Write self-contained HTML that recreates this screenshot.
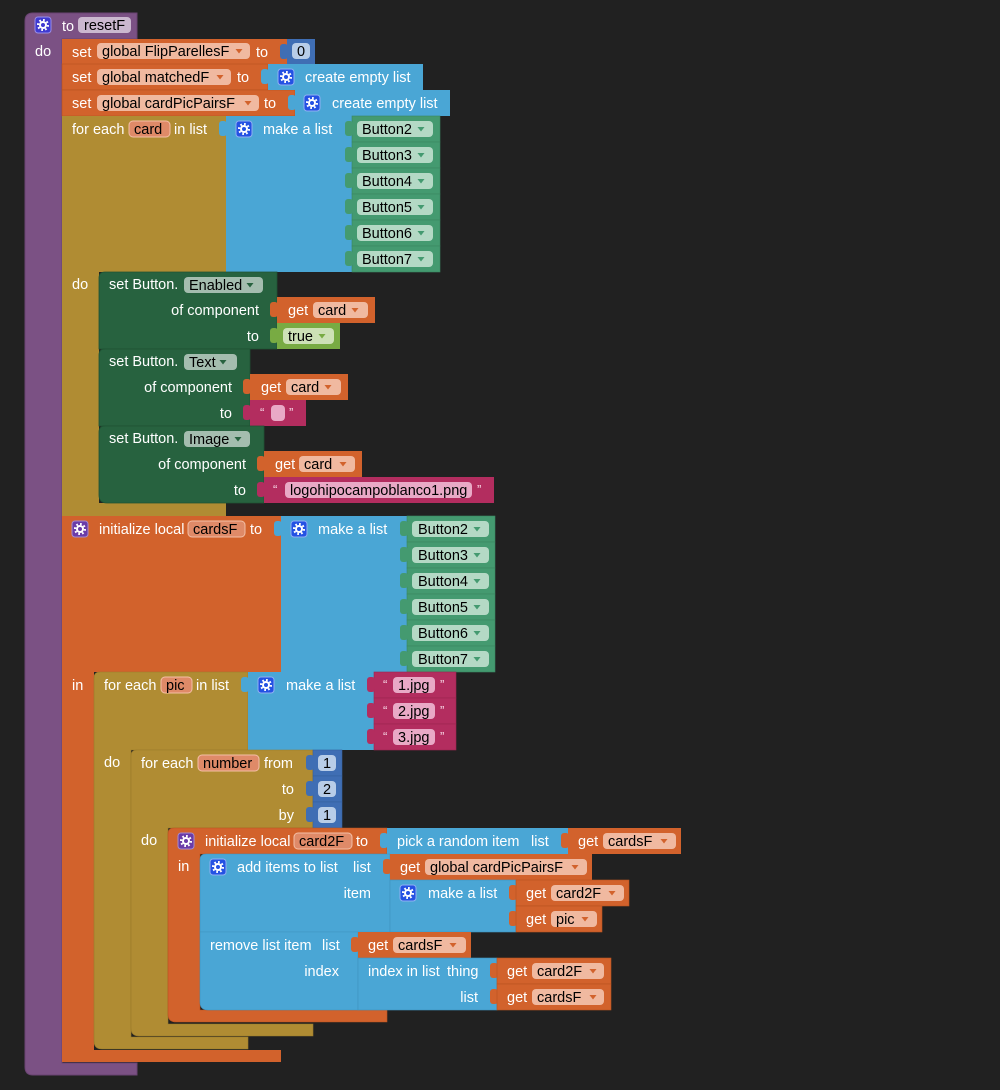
<!DOCTYPE html>
<html><head><meta charset="utf-8"><style>
html,body{margin:0;padding:0;background:#212121;}
svg{display:block}
text{font-family:"Liberation Sans",Arial,sans-serif;font-size:14.5px;}
.w{fill:#fff}
.k{fill:#000}
.q{fill:#f6d6e4;font-size:13px}
</style></head><body>
<svg width="1000" height="1090" viewBox="0 0 1000 1090" xmlns="http://www.w3.org/2000/svg">
<rect width="1000" height="1090" fill="#212121"/>

<!-- Purple procedure -->
<path d="M33,13 H137 V39 H62 V1063 H137 V1075 H33 Q25,1075 25,1067 V21 Q25,13 33,13 Z" fill="#7b5184" stroke="#6a4472" stroke-width="1"/>
<g transform="translate(35,17)"><rect width="16" height="16" rx="3" fill="#3f3ad0" stroke="#9a8ee8"/><circle cx="8" cy="8" r="3" fill="none" stroke="#fff" stroke-width="2"/><circle cx="8" cy="8" r="5" fill="none" stroke="#fff" stroke-width="2" stroke-dasharray="1.8 2.1"/></g>
<text x="62" y="31" class="w">to</text>
<rect x="78" y="17" width="53" height="16" rx="4" fill="#cbb8cf"/>
<text x="84" y="30" class="k">resetF</text>
<text x="35" y="56" class="w">do</text>

<!-- set globals -->
<rect x="62" y="39" width="225" height="25" fill="#d2622c"/>
<rect x="62" y="64" width="206" height="26" fill="#d2622c" stroke="#b8521f" stroke-width="0.6"/>
<rect x="62" y="90" width="233" height="26" fill="#d2622c" stroke="#b8521f" stroke-width="0.6"/>
<text x="72" y="57" class="w">set</text>
<rect x="97" y="43" width="153" height="16" rx="4" fill="#f0b9a0"/>
<text x="102" y="56" class="k">global FlipParellesF</text>
<path d="M235.5,49 h7 l-3.5,4.5 z" fill="#d2622c"/>
<text x="256" y="57" class="w">to</text>
<rect x="280" y="44" width="8" height="15" rx="3" fill="#3f6eb4"/>
<rect x="287" y="39" width="28" height="25" fill="#3f6eb4"/>
<rect x="292" y="43" width="18" height="16" rx="4" fill="#b8cde8"/>
<text x="297" y="56" class="k">0</text>

<text x="72" y="82" class="w">set</text>
<rect x="97" y="69" width="134" height="16" rx="4" fill="#f0b9a0"/>
<text x="102" y="82" class="k">global matchedF</text>
<path d="M216.5,75 h7 l-3.5,4.5 z" fill="#d2622c"/>
<text x="237" y="82" class="w">to</text>
<rect x="261" y="69" width="8" height="15" rx="3" fill="#4aa6d5"/>
<rect x="268" y="64" width="155" height="26" fill="#4aa6d5"/>
<g transform="translate(278,69)"><rect width="16" height="16" rx="3" fill="#2451e3" stroke="#8fb0f2"/><circle cx="8" cy="8" r="3" fill="none" stroke="#fff" stroke-width="2"/><circle cx="8" cy="8" r="5" fill="none" stroke="#fff" stroke-width="2" stroke-dasharray="1.8 2.1"/></g>
<text x="305" y="82" class="w">create empty list</text>

<text x="72" y="108" class="w">set</text>
<rect x="97" y="95" width="162" height="16" rx="4" fill="#f0b9a0"/>
<text x="102" y="108" class="k">global cardPicPairsF</text>
<path d="M244.5,101 h7 l-3.5,4.5 z" fill="#d2622c"/>
<text x="264" y="108" class="w">to</text>
<rect x="288" y="95" width="8" height="15" rx="3" fill="#4aa6d5"/>
<rect x="295" y="90" width="155" height="26" fill="#4aa6d5"/>
<g transform="translate(304,95)"><rect width="16" height="16" rx="3" fill="#2451e3" stroke="#8fb0f2"/><circle cx="8" cy="8" r="3" fill="none" stroke="#fff" stroke-width="2"/><circle cx="8" cy="8" r="5" fill="none" stroke="#fff" stroke-width="2" stroke-dasharray="1.8 2.1"/></g>
<text x="332" y="108" class="w">create empty list</text>

<!-- for each card -->
<path d="M62,116 H226 V272 H99 V503 H226 V516 H62 Z" fill="#b08c33"/>
<text x="72" y="134" class="w">for each</text>
<rect x="129" y="121" width="41" height="16" rx="4" fill="#df8a68" stroke="#f3bfa6"/>
<text x="134" y="134" class="k">card</text>
<text x="174" y="134" class="w">in list</text>
<rect x="219" y="121" width="8" height="15" rx="3" fill="#4aa6d5"/>
<rect x="226" y="116" width="126" height="156" fill="#4aa6d5"/>
<g transform="translate(236,121)"><rect width="16" height="16" rx="3" fill="#2451e3" stroke="#8fb0f2"/><circle cx="8" cy="8" r="3" fill="none" stroke="#fff" stroke-width="2"/><circle cx="8" cy="8" r="5" fill="none" stroke="#fff" stroke-width="2" stroke-dasharray="1.8 2.1"/></g>
<text x="263" y="134" class="w">make a list</text>

<g fill="#449a70" stroke="#3a8660" stroke-width="0.6">
<rect x="352" y="116" width="88" height="26"/><rect x="352" y="142" width="88" height="26"/><rect x="352" y="168" width="88" height="26"/><rect x="352" y="194" width="88" height="26"/><rect x="352" y="220" width="88" height="26"/><rect x="352" y="246" width="88" height="26"/>
</g>
<g fill="#449a70">
<rect x="345" y="121" width="8" height="15" rx="3"/><rect x="345" y="147" width="8" height="15" rx="3"/><rect x="345" y="173" width="8" height="15" rx="3"/><rect x="345" y="199" width="8" height="15" rx="3"/><rect x="345" y="225" width="8" height="15" rx="3"/><rect x="345" y="251" width="8" height="15" rx="3"/>
</g>
<g fill="#b4d9c5">
<rect x="357" y="121" width="76" height="16" rx="4"/><rect x="357" y="147" width="76" height="16" rx="4"/><rect x="357" y="173" width="76" height="16" rx="4"/><rect x="357" y="199" width="76" height="16" rx="4"/><rect x="357" y="225" width="76" height="16" rx="4"/><rect x="357" y="251" width="76" height="16" rx="4"/>
</g>
<text x="362" y="134" class="k">Button2</text>
<text x="362" y="160" class="k">Button3</text>
<text x="362" y="186" class="k">Button4</text>
<text x="362" y="212" class="k">Button5</text>
<text x="362" y="238" class="k">Button6</text>
<text x="362" y="264" class="k">Button7</text>
<g fill="#449a70">
<path d="M417.5,127 h7 l-3.5,4.5 z"/><path d="M417.5,153 h7 l-3.5,4.5 z"/><path d="M417.5,179 h7 l-3.5,4.5 z"/><path d="M417.5,205 h7 l-3.5,4.5 z"/><path d="M417.5,231 h7 l-3.5,4.5 z"/><path d="M417.5,257 h7 l-3.5,4.5 z"/>
</g>

<text x="72" y="289" class="w">do</text>

<!-- set Button.Enabled -->
<path d="M105,272 H277 V349 H99 V278 Q99,272 105,272 Z" fill="#27623f" stroke="#1f5233" stroke-width="0.8"/>
<text x="109" y="289" class="w">set Button.</text>
<rect x="184" y="277" width="79" height="16" rx="4" fill="#a4bdaf"/>
<text x="189" y="290" class="k">Enabled</text>
<path d="M246.5,283 h7 l-3.5,4.5 z" fill="#27623f"/>
<text x="259" y="315" class="w" text-anchor="end">of component</text>
<rect x="270" y="302" width="8" height="15" rx="3" fill="#d2622c"/>
<rect x="277" y="297" width="98" height="26" fill="#d2622c"/>
<text x="288" y="315" class="w">get</text>
<rect x="313" y="302" width="55" height="16" rx="4" fill="#f0b9a0"/>
<text x="318" y="315" class="k">card</text>
<path d="M351.5,308 h7 l-3.5,4.5 z" fill="#d2622c"/>
<text x="259" y="341" class="w" text-anchor="end">to</text>
<rect x="270" y="328" width="8" height="15" rx="3" fill="#78ab43"/>
<rect x="277" y="323" width="63" height="26" fill="#78ab43"/>
<rect x="283" y="328" width="51" height="16" rx="4" fill="#cde1b6"/>
<text x="288" y="341" class="k">true</text>
<path d="M318.5,334 h7 l-3.5,4.5 z" fill="#78ab43"/>

<!-- set Button.Text -->
<path d="M105,349 H250 V426 H99 V355 Q99,349 105,349 Z" fill="#27623f" stroke="#1f5233" stroke-width="0.8"/>
<text x="109" y="366" class="w">set Button.</text>
<rect x="184" y="354" width="53" height="16" rx="4" fill="#a4bdaf"/>
<text x="189" y="367" class="k">Text</text>
<path d="M219.5,360 h7 l-3.5,4.5 z" fill="#27623f"/>
<text x="232" y="392" class="w" text-anchor="end">of component</text>
<rect x="243" y="379" width="8" height="15" rx="3" fill="#d2622c"/>
<rect x="250" y="374" width="98" height="26" fill="#d2622c"/>
<text x="261" y="392" class="w">get</text>
<rect x="286" y="379" width="55" height="16" rx="4" fill="#f0b9a0"/>
<text x="291" y="392" class="k">card</text>
<path d="M324.5,385 h7 l-3.5,4.5 z" fill="#d2622c"/>
<text x="232" y="418" class="w" text-anchor="end">to</text>
<rect x="243" y="405" width="8" height="15" rx="3" fill="#b32d5f"/>
<rect x="250" y="400" width="56" height="26" fill="#b32d5f"/>
<text x="260" y="417" class="q">“</text>
<rect x="271" y="405" width="14" height="16" rx="4" fill="#e9a9c6"/>
<text x="289" y="417" class="q">”</text>

<!-- set Button.Image -->
<path d="M105,426 H264 V503 H107 Q99,503 99,495 V432 Q99,426 105,426 Z" fill="#27623f" stroke="#1f5233" stroke-width="0.8"/>
<text x="109" y="443" class="w">set Button.</text>
<rect x="184" y="431" width="66" height="16" rx="4" fill="#a4bdaf"/>
<text x="189" y="444" class="k">Image</text>
<path d="M234.5,437 h7 l-3.5,4.5 z" fill="#27623f"/>
<text x="246" y="469" class="w" text-anchor="end">of component</text>
<rect x="257" y="456" width="8" height="15" rx="3" fill="#d2622c"/>
<rect x="264" y="451" width="98" height="26" fill="#d2622c"/>
<text x="275" y="469" class="w">get</text>
<rect x="299" y="456" width="56" height="16" rx="4" fill="#f0b9a0"/>
<text x="304" y="469" class="k">card</text>
<path d="M339.5,462 h7 l-3.5,4.5 z" fill="#d2622c"/>
<text x="246" y="495" class="w" text-anchor="end">to</text>
<rect x="257" y="482" width="8" height="15" rx="3" fill="#b32d5f"/>
<rect x="264" y="477" width="230" height="26" fill="#b32d5f"/>
<text x="273" y="494" class="q">“</text>
<rect x="285" y="482" width="187" height="16" rx="4" fill="#e9a9c6"/>
<text x="290" y="495" class="k">logohipocampoblanco1.png</text>
<text x="477" y="494" class="q">”</text>

<!-- initialize local cardsF -->
<path d="M62,516 H281 V672 H94 V1050 H281 V1062 H62 Z" fill="#d2622c"/>
<g transform="translate(72,521)"><rect width="16" height="16" rx="3" fill="#6a3ca8" stroke="#a58ad0"/><circle cx="8" cy="8" r="3" fill="none" stroke="#fff" stroke-width="2"/><circle cx="8" cy="8" r="5" fill="none" stroke="#fff" stroke-width="2" stroke-dasharray="1.8 2.1"/></g>
<text x="99" y="534" class="w">initialize local</text>
<rect x="188" y="521" width="57" height="16" rx="4" fill="#df8a68" stroke="#f3bfa6"/>
<text x="193" y="534" class="k">cardsF</text>
<text x="250" y="534" class="w">to</text>
<rect x="274" y="521" width="8" height="15" rx="3" fill="#4aa6d5"/>
<rect x="281" y="516" width="126" height="156" fill="#4aa6d5"/>
<g transform="translate(291,521)"><rect width="16" height="16" rx="3" fill="#2451e3" stroke="#8fb0f2"/><circle cx="8" cy="8" r="3" fill="none" stroke="#fff" stroke-width="2"/><circle cx="8" cy="8" r="5" fill="none" stroke="#fff" stroke-width="2" stroke-dasharray="1.8 2.1"/></g>
<text x="318" y="534" class="w">make a list</text>
<g fill="#449a70" stroke="#3a8660" stroke-width="0.6">
<rect x="407" y="516" width="88" height="26"/><rect x="407" y="542" width="88" height="26"/><rect x="407" y="568" width="88" height="26"/><rect x="407" y="594" width="88" height="26"/><rect x="407" y="620" width="88" height="26"/><rect x="407" y="646" width="88" height="26"/>
</g>
<g fill="#449a70">
<rect x="400" y="521" width="8" height="15" rx="3"/><rect x="400" y="547" width="8" height="15" rx="3"/><rect x="400" y="573" width="8" height="15" rx="3"/><rect x="400" y="599" width="8" height="15" rx="3"/><rect x="400" y="625" width="8" height="15" rx="3"/><rect x="400" y="651" width="8" height="15" rx="3"/>
</g>
<g fill="#b4d9c5">
<rect x="412" y="521" width="77" height="16" rx="4"/><rect x="412" y="547" width="77" height="16" rx="4"/><rect x="412" y="573" width="77" height="16" rx="4"/><rect x="412" y="599" width="77" height="16" rx="4"/><rect x="412" y="625" width="77" height="16" rx="4"/><rect x="412" y="651" width="77" height="16" rx="4"/>
</g>
<text x="418" y="534" class="k">Button2</text>
<text x="418" y="560" class="k">Button3</text>
<text x="418" y="586" class="k">Button4</text>
<text x="418" y="612" class="k">Button5</text>
<text x="418" y="638" class="k">Button6</text>
<text x="418" y="664" class="k">Button7</text>
<g fill="#449a70">
<path d="M473.5,527 h7 l-3.5,4.5 z"/><path d="M473.5,553 h7 l-3.5,4.5 z"/><path d="M473.5,579 h7 l-3.5,4.5 z"/><path d="M473.5,605 h7 l-3.5,4.5 z"/><path d="M473.5,631 h7 l-3.5,4.5 z"/><path d="M473.5,657 h7 l-3.5,4.5 z"/>
</g>

<text x="72" y="690" class="w">in</text>

<!-- for each pic -->
<path d="M100,672 H248 V750 H131 V1037 H248 V1049 H102 Q94,1049 94,1041 V678 Q94,672 100,672 Z" fill="#b08c33" stroke="#9a7a2a" stroke-width="0.6"/>
<text x="104" y="690" class="w">for each</text>
<rect x="161" y="677" width="31" height="16" rx="4" fill="#df8a68" stroke="#f3bfa6"/>
<text x="166" y="690" class="k">pic</text>
<text x="196" y="690" class="w">in list</text>
<rect x="241" y="677" width="8" height="15" rx="3" fill="#4aa6d5"/>
<rect x="248" y="672" width="126" height="78" fill="#4aa6d5"/>
<g transform="translate(258,677)"><rect width="16" height="16" rx="3" fill="#2451e3" stroke="#8fb0f2"/><circle cx="8" cy="8" r="3" fill="none" stroke="#fff" stroke-width="2"/><circle cx="8" cy="8" r="5" fill="none" stroke="#fff" stroke-width="2" stroke-dasharray="1.8 2.1"/></g>
<text x="286" y="690" class="w">make a list</text>
<g fill="#b32d5f" stroke="#9c2550" stroke-width="0.6">
<rect x="374" y="672" width="82" height="26"/><rect x="374" y="698" width="82" height="26"/><rect x="374" y="724" width="82" height="26"/>
</g>
<g fill="#b32d5f">
<rect x="367" y="677" width="8" height="15" rx="3"/><rect x="367" y="703" width="8" height="15" rx="3"/><rect x="367" y="729" width="8" height="15" rx="3"/>
</g>
<g fill="#e9a9c6">
<rect x="393" y="677" width="42" height="16" rx="4"/><rect x="393" y="703" width="42" height="16" rx="4"/><rect x="393" y="729" width="42" height="16" rx="4"/>
</g>
<text x="383" y="689" class="q">“</text><text x="440" y="689" class="q">”</text>
<text x="383" y="715" class="q">“</text><text x="440" y="715" class="q">”</text>
<text x="383" y="741" class="q">“</text><text x="440" y="741" class="q">”</text>
<text x="398" y="690" class="k">1.jpg</text>
<text x="398" y="716" class="k">2.jpg</text>
<text x="398" y="742" class="k">3.jpg</text>

<text x="104" y="767" class="w">do</text>

<!-- for each number -->
<path d="M137,750 H313 V828 H168 V1024 H313 V1036 H139 Q131,1036 131,1028 V756 Q131,750 137,750 Z" fill="#b08c33" stroke="#9a7a2a" stroke-width="0.6"/>
<text x="141" y="768" class="w">for each</text>
<rect x="198" y="755" width="61" height="16" rx="4" fill="#df8a68" stroke="#f3bfa6"/>
<text x="203" y="768" class="k">number</text>
<text x="264" y="768" class="w">from</text>
<text x="294" y="794" class="w" text-anchor="end">to</text>
<text x="294" y="820" class="w" text-anchor="end">by</text>
<g fill="#3f6eb4" stroke="#345f9e" stroke-width="0.6">
<rect x="313" y="750" width="29" height="26"/><rect x="313" y="776" width="29" height="26"/><rect x="313" y="802" width="29" height="26"/>
</g>
<g fill="#3f6eb4">
<rect x="306" y="755" width="8" height="15" rx="3"/><rect x="306" y="781" width="8" height="15" rx="3"/><rect x="306" y="807" width="8" height="15" rx="3"/>
</g>
<g fill="#b8cde8">
<rect x="318" y="755" width="18" height="16" rx="4"/><rect x="318" y="781" width="18" height="16" rx="4"/><rect x="318" y="807" width="18" height="16" rx="4"/>
</g>
<text x="323" y="768" class="k">1</text>
<text x="323" y="794" class="k">2</text>
<text x="323" y="820" class="k">1</text>

<text x="141" y="845" class="w">do</text>

<!-- initialize local card2F -->
<path d="M174,828 H387 V854 H200 V1010 H387 V1022 H176 Q168,1022 168,1014 V834 Q168,828 174,828 Z" fill="#d2622c" stroke="#b8521f" stroke-width="0.6"/>
<g transform="translate(178,833)"><rect width="16" height="16" rx="3" fill="#6a3ca8" stroke="#a58ad0"/><circle cx="8" cy="8" r="3" fill="none" stroke="#fff" stroke-width="2"/><circle cx="8" cy="8" r="5" fill="none" stroke="#fff" stroke-width="2" stroke-dasharray="1.8 2.1"/></g>
<text x="205" y="846" class="w">initialize local</text>
<rect x="294" y="833" width="58" height="16" rx="4" fill="#df8a68" stroke="#f3bfa6"/>
<text x="299" y="846" class="k">card2F</text>
<text x="356" y="846" class="w">to</text>
<rect x="380" y="833" width="8" height="15" rx="3" fill="#4aa6d5"/>
<rect x="387" y="828" width="181" height="26" fill="#4aa6d5"/>
<text x="397" y="846" class="w">pick a random item</text>
<text x="531" y="846" class="w">list</text>
<rect x="561" y="833" width="8" height="15" rx="3" fill="#d2622c"/>
<rect x="568" y="828" width="113" height="26" fill="#d2622c"/>
<text x="578" y="846" class="w">get</text>
<rect x="603" y="833" width="73" height="16" rx="4" fill="#f0b9a0"/>
<text x="608" y="846" class="k">cardsF</text>
<path d="M660.5,839 h7 l-3.5,4.5 z" fill="#d2622c"/>

<text x="178" y="871" class="w">in</text>

<!-- add items to list -->
<path d="M206,854 H390 V932 H200 V860 Q200,854 206,854 Z" fill="#4aa6d5" stroke="#3f93bf" stroke-width="0.6"/>
<g transform="translate(210,859)"><rect width="16" height="16" rx="3" fill="#2451e3" stroke="#8fb0f2"/><circle cx="8" cy="8" r="3" fill="none" stroke="#fff" stroke-width="2"/><circle cx="8" cy="8" r="5" fill="none" stroke="#fff" stroke-width="2" stroke-dasharray="1.8 2.1"/></g>
<text x="237" y="872" class="w">add items to list</text>
<text x="353" y="872" class="w">list</text>
<rect x="383" y="859" width="8" height="15" rx="3" fill="#d2622c"/>
<rect x="390" y="854" width="202" height="26" fill="#d2622c"/>
<text x="400" y="872" class="w">get</text>
<rect x="425" y="859" width="162" height="16" rx="4" fill="#f0b9a0"/>
<text x="430" y="872" class="k">global cardPicPairsF</text>
<path d="M571.5,865 h7 l-3.5,4.5 z" fill="#d2622c"/>
<text x="371" y="898" class="w" text-anchor="end">item</text>
<rect x="390" y="880" width="126" height="52" fill="#4aa6d5" stroke="#3f93bf" stroke-width="0.6"/>
<g transform="translate(400,885)"><rect width="16" height="16" rx="3" fill="#2451e3" stroke="#8fb0f2"/><circle cx="8" cy="8" r="3" fill="none" stroke="#fff" stroke-width="2"/><circle cx="8" cy="8" r="5" fill="none" stroke="#fff" stroke-width="2" stroke-dasharray="1.8 2.1"/></g>
<text x="428" y="898" class="w">make a list</text>
<rect x="509" y="885" width="8" height="15" rx="3" fill="#d2622c"/>
<rect x="516" y="880" width="113" height="26" fill="#d2622c" stroke="#b8521f" stroke-width="0.6"/>
<text x="526" y="898" class="w">get</text>
<rect x="551" y="885" width="73" height="16" rx="4" fill="#f0b9a0"/>
<text x="556" y="898" class="k">card2F</text>
<path d="M608.5,891 h7 l-3.5,4.5 z" fill="#d2622c"/>
<rect x="509" y="911" width="8" height="15" rx="3" fill="#d2622c"/>
<rect x="516" y="906" width="86" height="26" fill="#d2622c" stroke="#b8521f" stroke-width="0.6"/>
<text x="526" y="924" class="w">get</text>
<rect x="551" y="911" width="46" height="16" rx="4" fill="#f0b9a0"/>
<text x="556" y="924" class="k">pic</text>
<path d="M581.5,917 h7 l-3.5,4.5 z" fill="#d2622c"/>

<!-- remove list item -->
<path d="M200,932 H358 V1010 H208 Q200,1010 200,1002 Z" fill="#4aa6d5" stroke="#3f93bf" stroke-width="0.6"/>
<text x="210" y="950" class="w">remove list item</text>
<text x="322" y="950" class="w">list</text>
<rect x="351" y="937" width="8" height="15" rx="3" fill="#d2622c"/>
<rect x="358" y="932" width="113" height="26" fill="#d2622c"/>
<text x="368" y="950" class="w">get</text>
<rect x="393" y="937" width="73" height="16" rx="4" fill="#f0b9a0"/>
<text x="398" y="950" class="k">cardsF</text>
<path d="M449.5,943 h7 l-3.5,4.5 z" fill="#d2622c"/>
<text x="339" y="976" class="w" text-anchor="end">index</text>
<rect x="358" y="958" width="139" height="52" fill="#4aa6d5" stroke="#3f93bf" stroke-width="0.6"/>
<text x="368" y="976" class="w">index in list</text>
<text x="447" y="976" class="w">thing</text>
<text x="478" y="1002" class="w" text-anchor="end">list</text>
<rect x="490" y="963" width="8" height="15" rx="3" fill="#d2622c"/>
<rect x="497" y="958" width="114" height="26" fill="#d2622c" stroke="#b8521f" stroke-width="0.6"/>
<text x="507" y="976" class="w">get</text>
<rect x="532" y="963" width="72" height="16" rx="4" fill="#f0b9a0"/>
<text x="537" y="976" class="k">card2F</text>
<path d="M589.5,969 h7 l-3.5,4.5 z" fill="#d2622c"/>
<rect x="490" y="989" width="8" height="15" rx="3" fill="#d2622c"/>
<rect x="497" y="984" width="114" height="26" fill="#d2622c" stroke="#b8521f" stroke-width="0.6"/>
<text x="507" y="1002" class="w">get</text>
<rect x="532" y="989" width="72" height="16" rx="4" fill="#f0b9a0"/>
<text x="537" y="1002" class="k">cardsF</text>
<path d="M589.5,995 h7 l-3.5,4.5 z" fill="#d2622c"/>

</svg>
</body></html>
